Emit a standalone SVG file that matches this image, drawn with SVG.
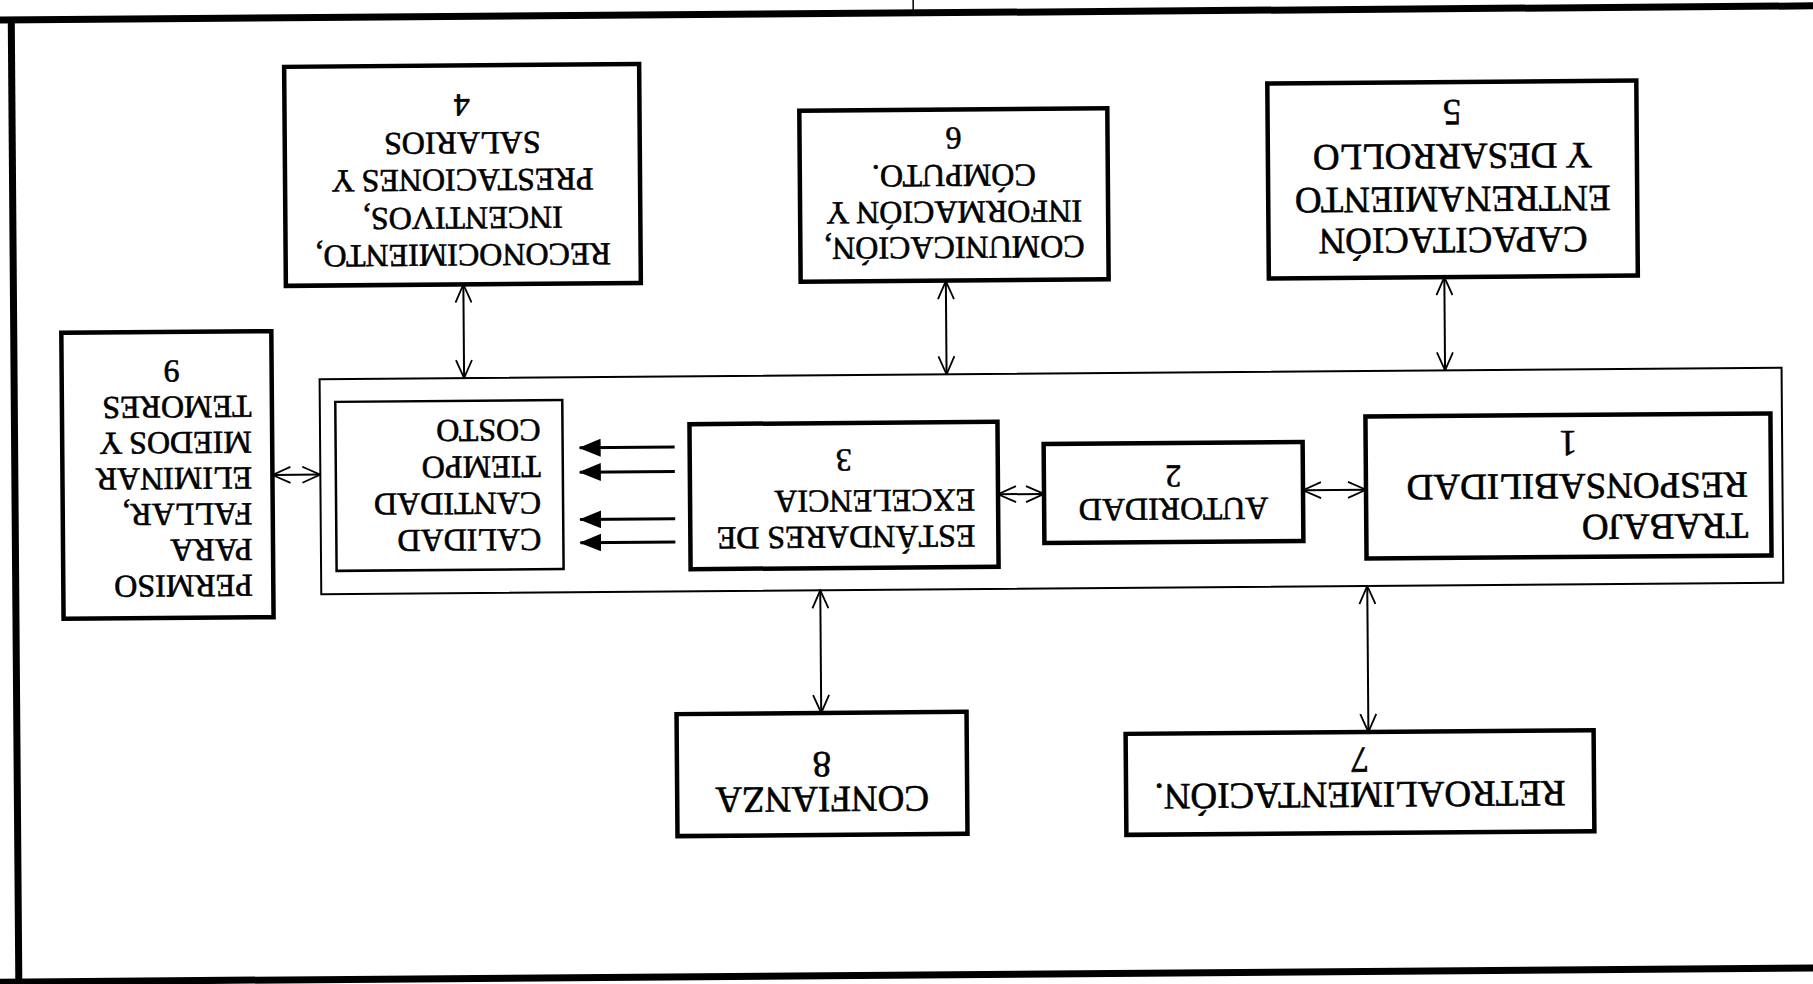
<svg xmlns="http://www.w3.org/2000/svg" width="1813" height="984" viewBox="0 0 1813 984">
  <style>
    .box { fill: #fff; stroke: #000; stroke-width: 4.5; }
    .frame { fill: none; stroke: #000; stroke-width: 2; }
    .list { fill: #fff; stroke: #000; stroke-width: 2.5; }
    .border { stroke: #000; fill: none; }
    text { font-family: "Liberation Serif", "Times New Roman", serif; fill: #000; stroke: #000; stroke-width: 0.6px; }
    .s { font-size: 32px; }
    .l { font-size: 37px; }
    .mid { text-anchor: middle; }
    .conn { stroke: #000; stroke-width: 2; fill: none; marker-start: url(#open); marker-end: url(#open); }
    .push { stroke: #000; stroke-width: 3; fill: none; marker-end: url(#solid); }
  </style>
  <defs>
    <marker id="open" viewBox="0 0 20 18" refX="19" refY="9" markerWidth="20" markerHeight="18" markerUnits="userSpaceOnUse" orient="auto-start-reverse">
      <path d="M1,1 L19,9 L1,17" fill="none" stroke="#000" stroke-width="1.8"/>
    </marker>
    <marker id="solid" viewBox="0 0 22 18" refX="21" refY="9" markerWidth="22" markerHeight="18" markerUnits="userSpaceOnUse" orient="auto">
      <path d="M0,0 L22,9 L0,18 Z" fill="#000"/>
    </marker>
  </defs>

  <rect width="1813" height="984" fill="#fff"/>

  <!-- whole sheet sits slightly skewed on the page -->
  <g transform="rotate(-0.45 906.5 492)">

    <!-- page frame -->
    <g id="frame">
      <line class="border" x1="-30" y1="13" x2="1850" y2="13" stroke-width="7"/>
      <line class="border" x1="15" y1="10" x2="15" y2="978" stroke-width="7"/>
      <line class="border" x1="-30" y1="975" x2="1850" y2="975" stroke-width="7"/>
      <line class="border" x1="917" y1="-6" x2="917" y2="12" stroke-width="1.5"/>
    </g>

    <!-- central block holding nodes 1, 2, 3 and the result list -->
    <g id="core">
      <rect class="frame" x="320.5" y="374.6" width="1462" height="215"/>
    </g>

    <g id="connectors">
      <path class="conn" d="M465,281 V374.6"/>
      <path class="conn" d="M947.5,281.4 V374.6"/>
      <path class="conn" d="M1446,281.3 V374.6"/>
      <path class="conn" d="M272.6,470 H320.5"/>
      <path class="conn" d="M819.5,589.6 V712.3"/>
      <path class="conn" d="M1366.5,589.6 V735.6"/>
      <path class="conn" d="M998,495 H1044"/>
      <path class="conn" d="M1303,493.4 H1366"/>
      <path class="push" d="M675,445.3 H580"/>
      <path class="push" d="M675,469.6 H580"/>
      <path class="push" d="M675,517 H580"/>
      <path class="push" d="M675,540.1 H580"/>
    </g>

    <!-- 4 -->
    <g id="node4">
      <rect class="box" x="287.5" y="62" width="355" height="219"/>
      <g transform="rotate(180 465 171.5)" class="s mid">
        <text x="465" y="102">RECONOCIMIENTO,</text>
        <text x="465" y="139">INCENTIVOS,</text>
        <text x="465" y="177">PRESTACIONES Y</text>
        <text x="465" y="214">SALARIOS</text>
        <text x="465" y="252">4</text>
      </g>
    </g>

    <!-- 6 -->
    <g id="node6">
      <rect class="box" x="802.3" y="109.9" width="308" height="171"/>
      <g transform="rotate(180 956.3 195.4)" class="s mid">
        <text x="956.3" y="153.4">COMUNICACIÓN,</text>
        <text x="956.3" y="188.9">INFORMACIÓN Y</text>
        <text x="956.3" y="225.4">CÓMPUTO.</text>
        <text x="956.3" y="262.9">6</text>
      </g>
    </g>

    <!-- 5 -->
    <g id="node5">
      <rect class="box" x="1270.5" y="86.3" width="369" height="195"/>
      <g transform="rotate(180 1455 183.8)" class="l mid">
        <text x="1455" y="135.3">CAPACITACIÓN</text>
        <text x="1455" y="176.3">ENTRENAMIENTO</text>
        <text x="1455" y="219.3">Y DESARROLLO</text>
        <text x="1455" y="263.3">5</text>
      </g>
    </g>

    <!-- 9 -->
    <g id="node9">
      <rect class="box" x="62.6" y="326.2" width="210" height="286"/>
      <g transform="rotate(180 167.6 469.2)" class="s">
        <text x="83" y="368.7">PERMISO</text>
        <text x="83" y="404.5">PARA</text>
        <text x="83" y="440.3">FALLAR,</text>
        <text x="83" y="476.1">ELIMINAR</text>
        <text x="83" y="511.9">MIEDOS Y</text>
        <text x="83" y="547.7">TEMORES</text>
        <text x="162.6" y="583.5" class="mid">9</text>
      </g>
    </g>

    <!-- result list -->
    <g id="results">
      <rect class="list" x="336" y="397.4" width="227" height="169"/>
      <g transform="rotate(180 449.5 481.9)" class="s">
        <text x="358" y="437.7">CALIDAD</text>
        <text x="358" y="474.2">CANTIDAD</text>
        <text x="358" y="510.7">TIEMPO</text>
        <text x="358" y="547.2">COSTO</text>
      </g>
    </g>

    <!-- 3 -->
    <g id="node3">
      <rect class="box" x="690" y="422.5" width="308" height="145"/>
      <g transform="rotate(180 844 495)" class="s">
        <text x="713" y="464">ESTÁNDARES DE</text>
        <text x="713" y="500">EXCELENCIA</text>
        <text x="844" y="541" class="mid">3</text>
      </g>
    </g>

    <!-- 2 -->
    <g id="node2">
      <rect class="box" x="1044" y="445.1" width="259" height="99"/>
      <g transform="rotate(180 1173.5 494.6)" class="s mid">
        <text x="1173.5" y="488.6">AUTORIDAD</text>
        <text x="1173.5" y="521.6">2</text>
      </g>
    </g>

    <!-- 1 -->
    <g id="node1">
      <rect class="box" x="1366" y="420.2" width="405" height="142"/>
      <g transform="rotate(180 1568.5 491.2)" class="l">
        <text x="1389" y="462.2">TRABAJO</text>
        <text x="1389" y="503.2">RESPONSABILIDAD</text>
        <text x="1568.5" y="546.2" class="mid">1</text>
      </g>
    </g>

    <!-- 8 -->
    <g id="node8">
      <rect class="box" x="674.8" y="712.3" width="290" height="122"/>
      <g transform="rotate(180 819.8 773.3)" class="l mid">
        <text x="819.8" y="760.3">CONFIANZA</text>
        <text x="819.8" y="795.3">8</text>
      </g>
    </g>

    <!-- 7 -->
    <g id="node7">
      <rect class="box" x="1123.7" y="735.6" width="468" height="101"/>
      <g transform="rotate(180 1357.7 786.1)" class="l mid">
        <text x="1357.7" y="786.1">RETROALIMENTACIÓN.</text>
        <text x="1357.7" y="821.1">7</text>
      </g>
    </g>
  </g>
</svg>
